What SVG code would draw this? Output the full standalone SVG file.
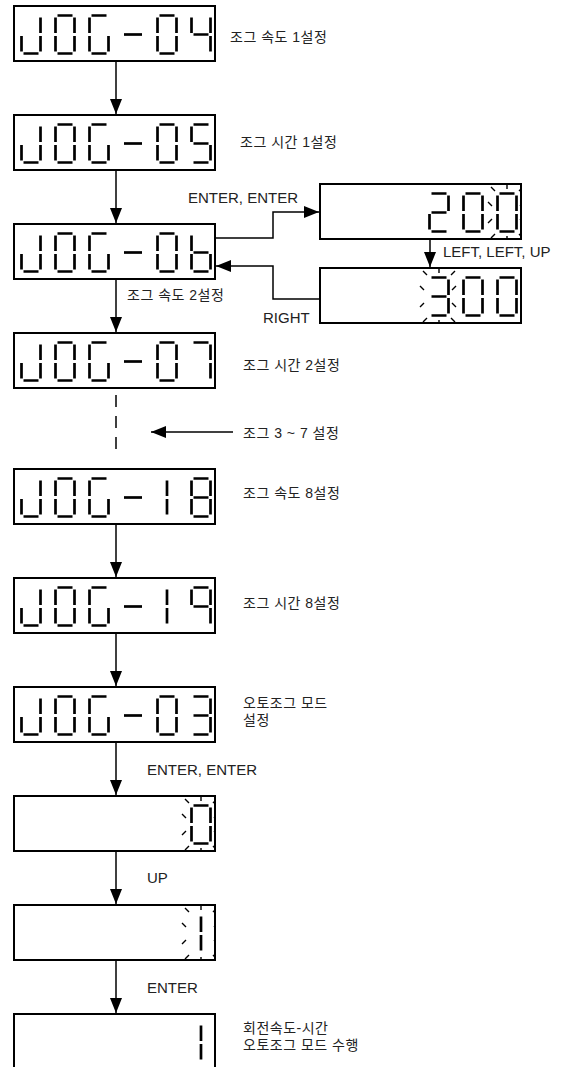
<svg xmlns="http://www.w3.org/2000/svg" xmlns:xlink="http://www.w3.org/1999/xlink" width="565" height="1067" viewBox="0 0 565 1067">
<style>
.box{fill:#fff;stroke:#000;stroke-width:2}
.seg{fill:none;stroke:#000;stroke-width:2.7;stroke-linecap:butt}
.tick{fill:none;stroke:#000;stroke-width:1.4}
.conn{fill:none;stroke:#000;stroke-width:1.5}
.lbl{font-family:"Liberation Sans","Noto Sans CJK KR",sans-serif;font-size:15px;fill:#222}
.kr{font-family:"Liberation Sans","Noto Sans CJK KR",sans-serif;font-size:14px;fill:#222;letter-spacing:0.5px}
</style>
<defs>
<marker id="ah" markerUnits="userSpaceOnUse" markerWidth="15" markerHeight="12" refX="15" refY="6" orient="auto">
<path d="M0,0L15,6L0,12Z" fill="#000"/>
</marker>
<clipPath id="cl"><rect x="-12" y="-7" width="36" height="54"/></clipPath>
<path id="dJ" class="seg" d="M20.5,3.5V19M20.5,22V37.5M3.5,39.5H18.5M1.5,22V37.5"/>
<path id="d0" class="seg" d="M3.5,1.5H18.5M20.5,3.5V19M20.5,22V37.5M3.5,39.5H18.5M1.5,22V37.5M1.5,3.5V19"/>
<path id="dG" class="seg" d="M3.5,1.5H18.5M1.5,3.5V19M1.5,22V37.5M3.5,39.5H18.5M20.5,22V37.5"/>
<path id="dM" class="seg" d="M2,20.5H20"/>
<path id="d4" class="seg" d="M1.5,3.5V19M3.5,20.5H18.5M20.5,3.5V19M20.5,22V37.5"/>
<path id="d5" class="seg" d="M3.5,1.5H18.5M1.5,3.5V19M3.5,20.5H18.5M20.5,22V37.5M3.5,39.5H18.5"/>
<path id="db" class="seg" d="M1.5,3.5V19M1.5,22V37.5M3.5,20.5H18.5M20.5,22V37.5M3.5,39.5H18.5"/>
<path id="d7" class="seg" d="M3.5,1.5H18.5M20.5,3.5V19M20.5,22V37.5"/>
<path id="d1" class="seg" d="M11,3.5V19M11,22V37.5"/>
<path id="d8" class="seg" d="M3.5,1.5H18.5M20.5,3.5V19M20.5,22V37.5M3.5,39.5H18.5M1.5,22V37.5M1.5,3.5V19M3.5,20.5H18.5"/>
<path id="d9" class="seg" d="M3.5,1.5H18.5M20.5,3.5V19M20.5,22V37.5M1.5,3.5V19M3.5,20.5H18.5"/>
<path id="d3" class="seg" d="M3.5,1.5H18.5M20.5,3.5V19M20.5,22V37.5M3.5,39.5H18.5M3.5,20.5H18.5"/>
<path id="d2" class="seg" d="M3.5,1.5H18.5M20.5,3.5V19M3.5,20.5H18.5M1.5,22V37.5M3.5,39.5H18.5"/>
<path id="blink" class="tick" d="M11,-7V-3M11,44V47.5M-5,-5L-1,-1M23,-1L27,-5M-5,46L-1,42M23,42L27,46M-8,10L-4,14M-8,31L-4,27M24,14L28,10M24,27L28,31"/>
</defs>

<g id="connectors">
<line class="conn" x1="116" y1="61" x2="116" y2="114" marker-end="url(#ah)"/>
<line class="conn" x1="116" y1="170" x2="116" y2="223" marker-end="url(#ah)"/>
<line class="conn" x1="116" y1="279" x2="116" y2="332" marker-end="url(#ah)"/>
<line class="conn" x1="116" y1="395" x2="116" y2="450" stroke-dasharray="12 9"/>
<line class="conn" x1="233" y1="432" x2="151" y2="432" marker-end="url(#ah)"/>
<line class="conn" x1="116" y1="524" x2="116" y2="577" marker-end="url(#ah)"/>
<line class="conn" x1="116" y1="633" x2="116" y2="686" marker-end="url(#ah)"/>
<line class="conn" x1="116" y1="742" x2="116" y2="795" marker-end="url(#ah)"/>
<line class="conn" x1="116" y1="851" x2="116" y2="904" marker-end="url(#ah)"/>
<line class="conn" x1="116" y1="960" x2="116" y2="1013" marker-end="url(#ah)"/>
<polyline class="conn" points="215,238 273,238 273,212 319,212" marker-end="url(#ah)"/>
<line class="conn" x1="430" y1="239" x2="430" y2="267" marker-end="url(#ah)"/>
<polyline class="conn" points="320,299 273,299 273,266 216,266" marker-end="url(#ah)"/>
</g>

<g id="jog04">
<rect class="box" x="14" y="6" width="201" height="55"/>
<use href="#dJ" x="20" y="14"/><use href="#d0" x="54" y="14"/><use href="#dG" x="88" y="14"/><use href="#dM" x="122" y="14"/><use href="#d0" x="156" y="14"/><use href="#d4" x="190" y="14"/>
<text class="kr" x="230" y="42">조그 속도 1설정</text>
</g>

<g id="jog05">
<rect class="box" x="14" y="115" width="201" height="55"/>
<use href="#dJ" x="20" y="123"/><use href="#d0" x="54" y="123"/><use href="#dG" x="88" y="123"/><use href="#dM" x="122" y="123"/><use href="#d0" x="156" y="123"/><use href="#d5" x="190" y="123"/>
<text class="kr" x="240" y="147">조그 시간 1설정</text>
</g>

<g id="jog06">
<rect class="box" x="14" y="224" width="201" height="55"/>
<use href="#dJ" x="20" y="232"/><use href="#d0" x="54" y="232"/><use href="#dG" x="88" y="232"/><use href="#dM" x="122" y="232"/><use href="#d0" x="156" y="232"/><use href="#db" x="190" y="232"/>
<text class="kr" x="127" y="300">조그 속도 2설정</text>
</g>

<g id="val200">
<rect class="box" x="320" y="184" width="201" height="55"/>
<use href="#d2" x="428" y="192"/><use href="#d0" x="462" y="192"/><use href="#d0" x="496" y="192"/>
<g transform="translate(496,192)" clip-path="url(#cl)"><use href="#blink"/></g>
</g>

<g id="val300">
<rect class="box" x="320" y="268" width="201" height="55"/>
<use href="#d3" x="428" y="276"/><use href="#d0" x="462" y="276"/><use href="#d0" x="496" y="276"/>
<use href="#blink" x="428" y="276"/>
</g>

<g id="labels-side">
<text class="lbl" x="188" y="203">ENTER, ENTER</text>
<text class="lbl" x="443" y="257">LEFT, LEFT, UP</text>
<text class="lbl" x="263" y="323">RIGHT</text>
</g>

<g id="jog07">
<rect class="box" x="14" y="333" width="201" height="55"/>
<use href="#dJ" x="20" y="341"/><use href="#d0" x="54" y="341"/><use href="#dG" x="88" y="341"/><use href="#dM" x="122" y="341"/><use href="#d0" x="156" y="341"/><use href="#d7" x="190" y="341"/>
<text class="kr" x="243" y="370">조그 시간 2설정</text>
</g>

<g id="jog3to7">
<text class="kr" x="243" y="438">조그 3 ~ 7 설정</text>
</g>

<g id="jog18">
<rect class="box" x="14" y="469" width="201" height="55"/>
<use href="#dJ" x="20" y="477"/><use href="#d0" x="54" y="477"/><use href="#dG" x="88" y="477"/><use href="#dM" x="122" y="477"/><use href="#d1" x="156" y="477"/><use href="#d8" x="190" y="477"/>
<text class="kr" x="243" y="498">조그 속도 8설정</text>
</g>

<g id="jog19">
<rect class="box" x="14" y="578" width="201" height="55"/>
<use href="#dJ" x="20" y="586"/><use href="#d0" x="54" y="586"/><use href="#dG" x="88" y="586"/><use href="#dM" x="122" y="586"/><use href="#d1" x="156" y="586"/><use href="#d9" x="190" y="586"/>
<text class="kr" x="243" y="608">조그 시간 8설정</text>
</g>

<g id="jog03">
<rect class="box" x="14" y="687" width="201" height="55"/>
<use href="#dJ" x="20" y="695"/><use href="#d0" x="54" y="695"/><use href="#dG" x="88" y="695"/><use href="#dM" x="122" y="695"/><use href="#d0" x="156" y="695"/><use href="#d3" x="190" y="695"/>
<text class="kr" x="243" y="708">오토조그 모드</text>
<text class="kr" x="243" y="725">설정</text>
<text class="lbl" x="147" y="775">ENTER, ENTER</text>
</g>

<g id="mode0">
<rect class="box" x="14" y="796" width="201" height="55"/>
<use href="#d0" x="190" y="804"/>
<g transform="translate(190,804)" clip-path="url(#cl)"><use href="#blink"/></g>
<text class="lbl" x="147" y="883">UP</text>
</g>

<g id="mode1">
<rect class="box" x="14" y="905" width="201" height="55"/>
<use href="#d1" x="190" y="913"/>
<g transform="translate(190,913)" clip-path="url(#cl)"><use href="#blink"/></g>
<text class="lbl" x="147" y="993">ENTER</text>
</g>

<g id="run">
<rect class="box" x="14" y="1014" width="201" height="70"/>
<use href="#d1" x="190" y="1022"/>
<text class="kr" x="243" y="1033">회전속도-시간</text>
<text class="kr" x="243" y="1050">오토조그 모드 수행</text>
</g>
</svg>
